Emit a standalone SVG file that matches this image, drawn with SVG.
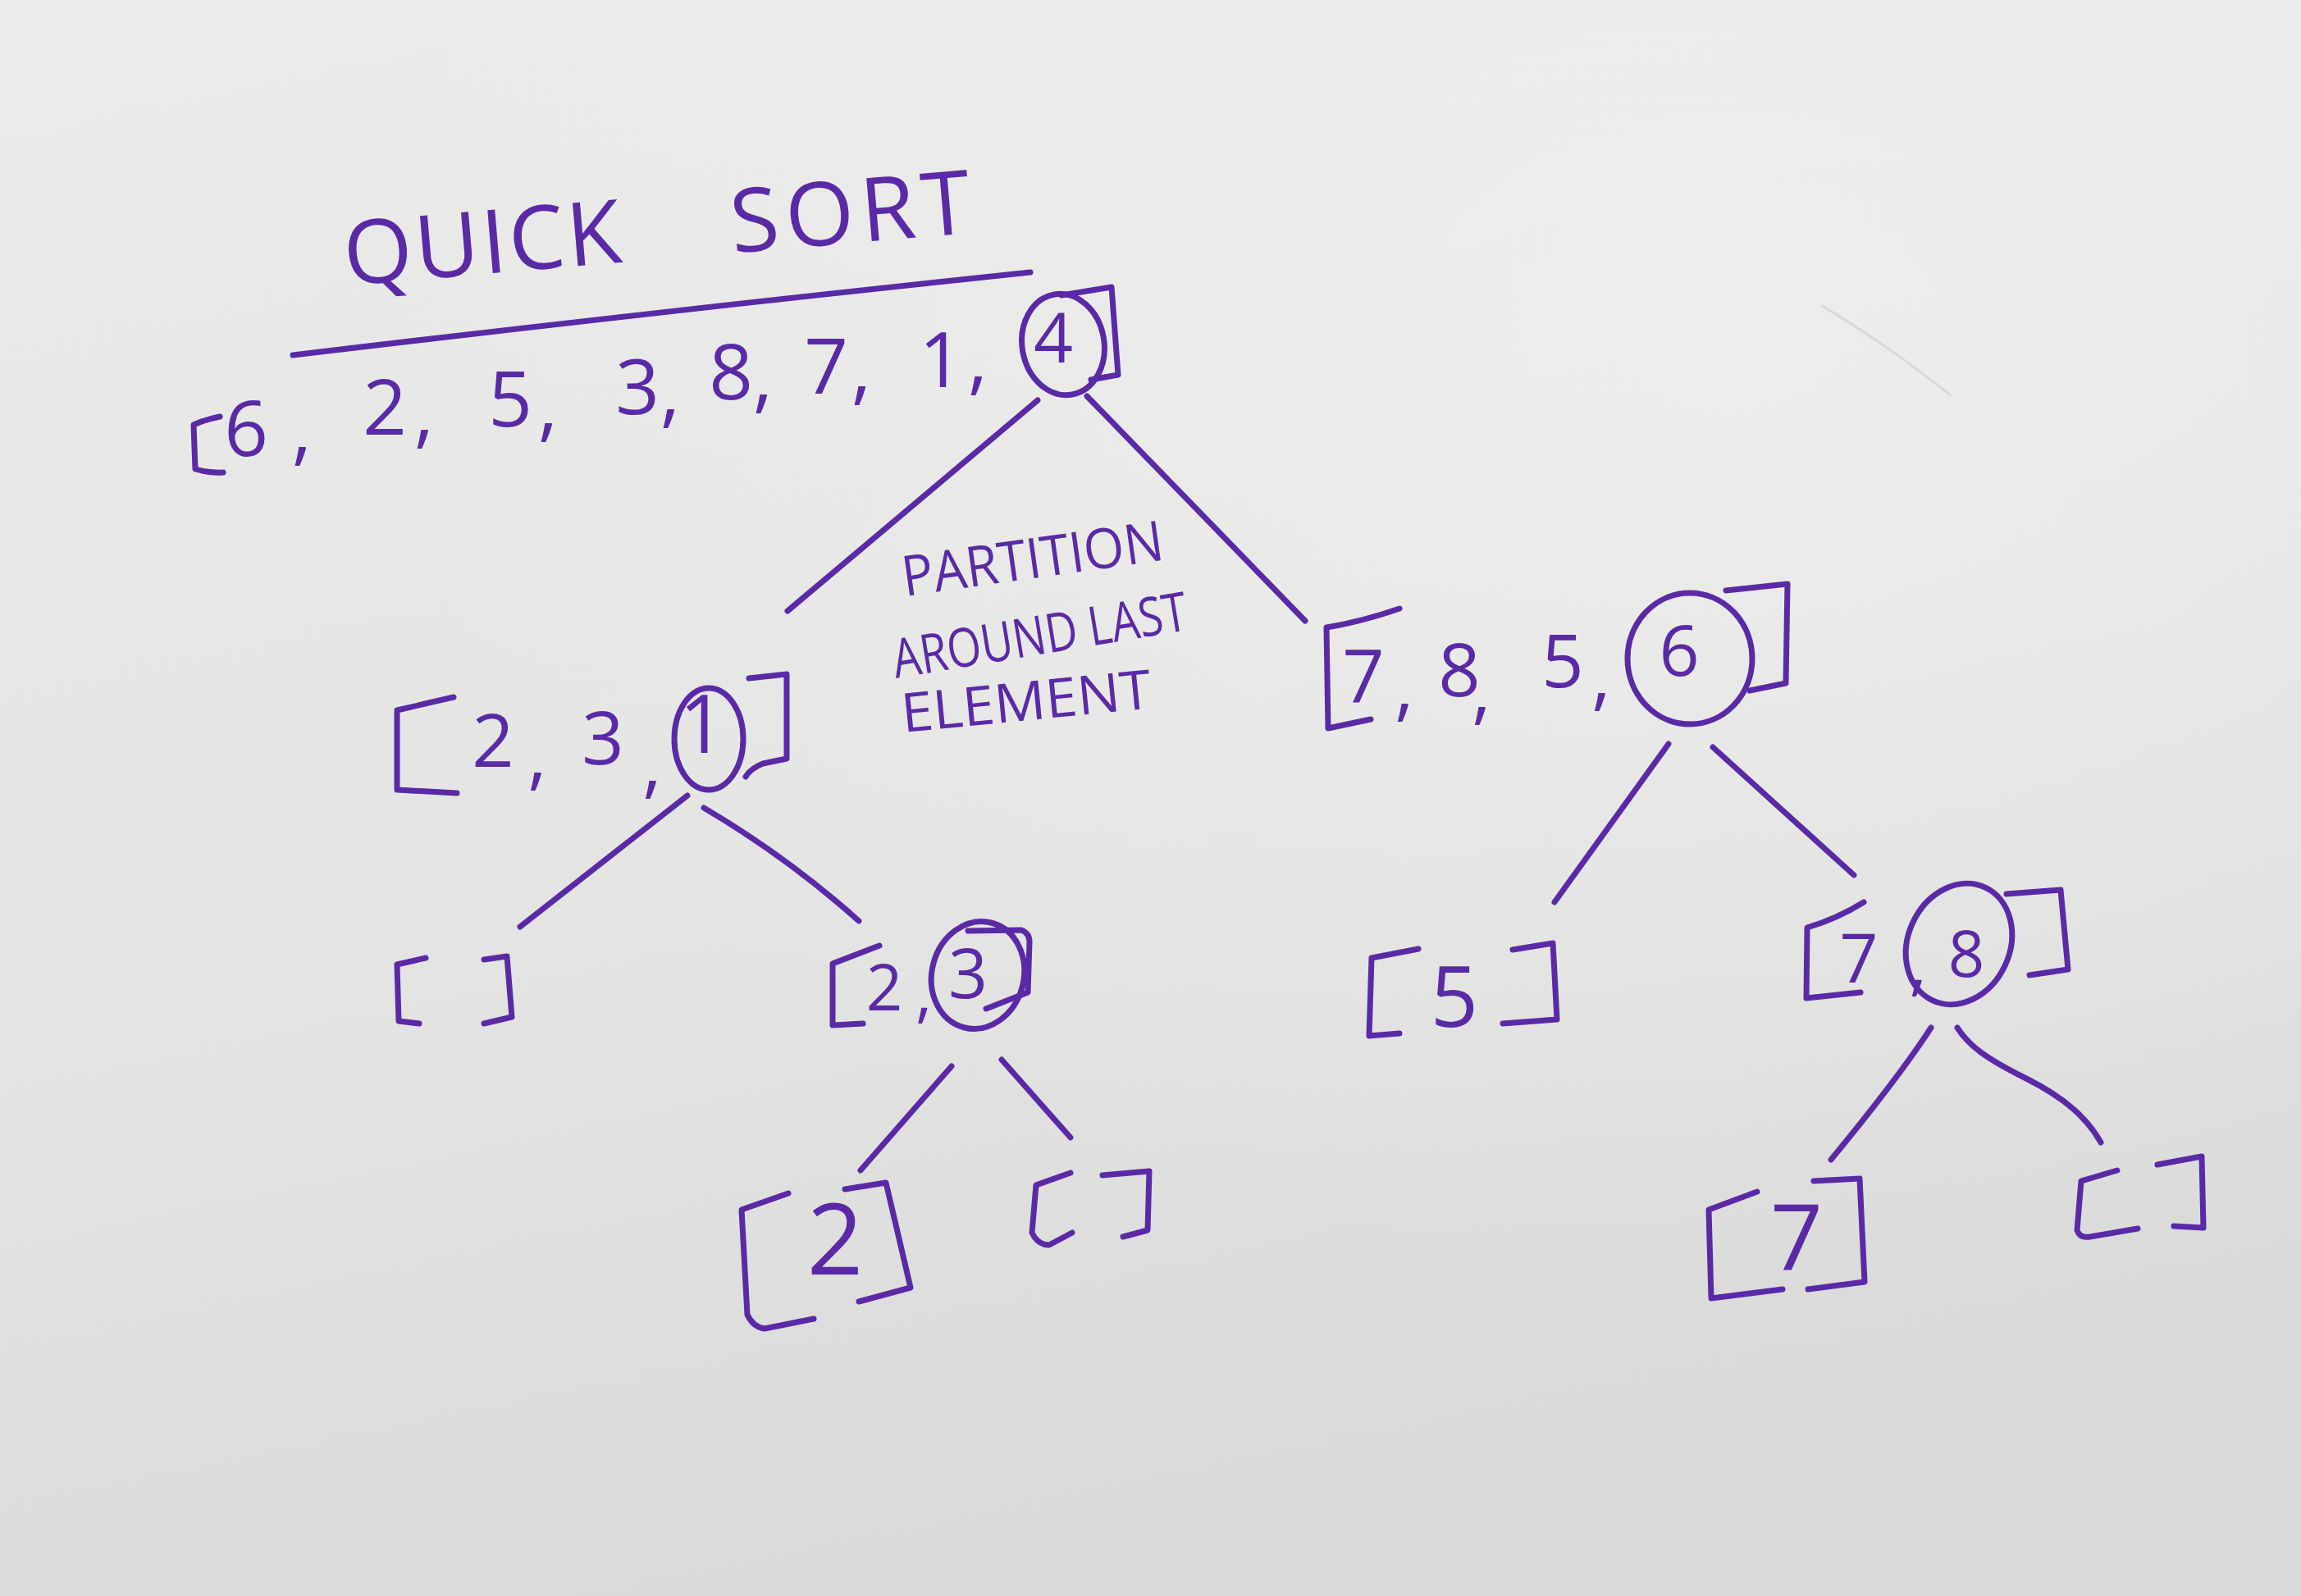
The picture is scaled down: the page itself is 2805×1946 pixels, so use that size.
<svg xmlns="http://www.w3.org/2000/svg" width="2805" height="1946" viewBox="0 0 2805 1946">
<defs>
<linearGradient id="paper" x1="0" y1="0" x2="0.3" y2="1">
<stop offset="0" stop-color="#ebebea"/>
<stop offset="0.6" stop-color="#e4e4e3"/>
<stop offset="1" stop-color="#dadad9"/>
</linearGradient>
<radialGradient id="hi" cx="0.75" cy="0.2" r="0.6">
<stop offset="0" stop-color="#f0f0ef" stop-opacity="0.7"/>
<stop offset="1" stop-color="#f0f0ef" stop-opacity="0"/>
</radialGradient>
<style>
.ink{stroke:#5a2aa6;stroke-width:7;fill:none;stroke-linecap:round;stroke-linejoin:round}
.t{font-family:'Open Sans',Lato,'Liberation Sans',sans-serif;font-weight:400;fill:#5a2aa6;text-anchor:middle}
.l{font-family:'Open Sans',Lato,'Liberation Sans',sans-serif;font-weight:400;fill:#5a2aa6}
</style>
</defs>
<rect width="2805" height="1946" fill="url(#paper)"/>
<rect width="2805" height="1946" fill="url(#hi)"/>
<path d="M2220,372 Q2300,420 2378,482" stroke="#9a9a9a" stroke-width="3" fill="none" opacity="0.25"/>

<g id="title">
<text class="l" font-size="108" letter-spacing="3" transform="translate(422,348) rotate(-4.8)">QUICK <tspan dx="100" letter-spacing="8">SORT</tspan></text>
<path class="ink" d="M357,433 Q800,380 1256,332" stroke-width="8"/>
</g>

<g id="connectors">
<path class="ink" d="M1265,488 L960,745"/>
<path class="ink" d="M1325,483 L1591,757"/>
<path class="ink" d="M838,970 L634,1130"/>
<path class="ink" d="M858,985 Q960,1045 1047,1123"/>
<path class="ink" d="M1160,1300 L1049,1427"/>
<path class="ink" d="M1221,1292 L1305,1387"/>
<path class="ink" d="M2034,907 L1895,1100"/>
<path class="ink" d="M2088,911 L2260,1067"/>
<path class="ink" d="M2354,1253 Q2316,1312 2232,1414"/>
<path class="ink" d="M2386,1253 C2400,1275 2420,1290 2470,1315 C2520,1340 2545,1365 2561,1393"/>
</g>

<g id="root">
<path class="ink" d="M268,508 Q248,512 236,518 L238,572 Q255,577 272,576"/>
<text class="t" font-size="94" x="300 368 400 469 517 545 622 668 700 777 817 850 891 930 960 1007 1050 1090 1147 1192" y="556 556 550 530 535 530 520 527 520 505 510 500 487 492 485 480 482 475 472 470">6, 2, 5, 3, 8, 7, 1,</text>
<ellipse class="ink" cx="1296" cy="420" rx="50" ry="62" transform="rotate(-10 1296 420)"/>
<text class="t" font-size="84" x="1284" y="442">4</text>
<path class="ink" d="M1294,360 L1355,350 L1363,457 L1330,463"/>
</g>

<g id="partition-label">
<text class="l" font-size="68" textLength="321" lengthAdjust="spacingAndGlyphs" transform="translate(1103,727) rotate(-8)">PARTITION</text>
<text class="l" font-size="66" textLength="363" lengthAdjust="spacingAndGlyphs" transform="translate(1092,827) rotate(-9.4)">AROUND LAST</text>
<text class="l" font-size="66" textLength="306" lengthAdjust="spacingAndGlyphs" transform="translate(1101,893) rotate(-5.6)">ELEMENT</text>
</g>

<g id="left">
<path class="ink" d="M553,850 L484,866 L484,963 L557,967"/>
<text class="t" font-size="90" x="601 655 680 735 795" y="935 952 940 932 962">2, 3,</text>
<ellipse class="ink" cx="864" cy="901" rx="42" ry="62"/>
<text class="t" font-size="98" x="856" y="918">1</text>
<path class="ink" d="M913,827 L959,822 L959,925 L930,931 Q915,937 909,947"/>
</g>

<g id="left-left">
<path class="ink" d="M519,1168 L484,1176 L486,1245 L511,1248"/>
<path class="ink" d="M590,1170 L618,1166 L624,1240 L590,1248"/>
</g>

<g id="left-right">
<path class="ink" d="M1072,1153 L1015,1175 L1015,1250 L1052,1248"/>
<text class="t" font-size="78" x="1078 1126" y="1232 1238">2,</text>
<ellipse class="ink" cx="1192" cy="1189" rx="56" ry="66" transform="rotate(15 1192 1189)"/>
<text class="t" font-size="84" x="1180" y="1217">3</text>
<path class="ink" d="M1180,1135 L1245,1134 Q1255,1138 1255,1148 L1253,1210 L1202,1230"/>
</g>

<g id="node-2">
<path class="ink" d="M961,1455 L904,1475 L911,1603 Q918,1618 932,1620 L992,1608"/>
<text class="t" font-size="120" x="1018" y="1554">2</text>
<path class="ink" d="M1030,1450 L1080,1442 L1110,1570 L1047,1587"/>
</g>

<g id="node-empty-2">
<path class="ink" d="M1305,1430 L1263,1445 L1258,1503 Q1265,1518 1279,1518 L1307,1503"/>
<path class="ink" d="M1344,1433 L1401,1428 L1399,1500 L1369,1508"/>
</g>

<g id="right">
<path class="ink" d="M1706,742 Q1660,758 1617,765 L1619,888 L1671,877"/>
<text class="t" font-size="90" x="1662 1712 1740 1779 1806 1840 1905 1952" y="857 868 860 849 872 860 838 855">7, 8, 5,</text>
<ellipse class="ink" cx="2060" cy="803" rx="76" ry="80"/>
<text class="t" font-size="86" x="2047" y="824">6</text>
<path class="ink" d="M2104,720 L2179,712 L2177,833 L2133,842"/>
</g>

<g id="node-5">
<path class="ink" d="M1729,1157 L1672,1168 L1669,1263 L1706,1260"/>
<text class="t" font-size="102" x="1773" y="1252">5</text>
<path class="ink" d="M1844,1158 L1893,1150 L1898,1243 L1832,1248"/>
</g>

<g id="node-78">
<path class="ink" d="M2272,1100 Q2240,1120 2203,1131 L2202,1217 L2268,1210"/>
<text class="t" font-size="82" x="2266 2338" y="1198 1204">7,</text>
<ellipse class="ink" cx="2388" cy="1151" rx="62" ry="76" transform="rotate(25 2388 1151)"/>
<text class="t" font-size="78" x="2397" y="1191">8</text>
<path class="ink" d="M2446,1090 L2512,1085 L2521,1182 L2474,1189"/>
</g>

<g id="node-7">
<path class="ink" d="M2142,1453 L2083,1475 L2086,1583 L2173,1572"/>
<text class="t" font-size="112" x="2190" y="1549">7</text>
<path class="ink" d="M2211,1440 L2267,1437 L2273,1563 L2204,1572"/>
</g>

<g id="node-empty-8">
<path class="ink" d="M2581,1427 L2537,1440 L2532,1500 Q2535,1510 2548,1508 L2606,1498"/>
<path class="ink" d="M2630,1420 L2684,1410 L2686,1497 L2650,1495"/>
</g>
</svg>
